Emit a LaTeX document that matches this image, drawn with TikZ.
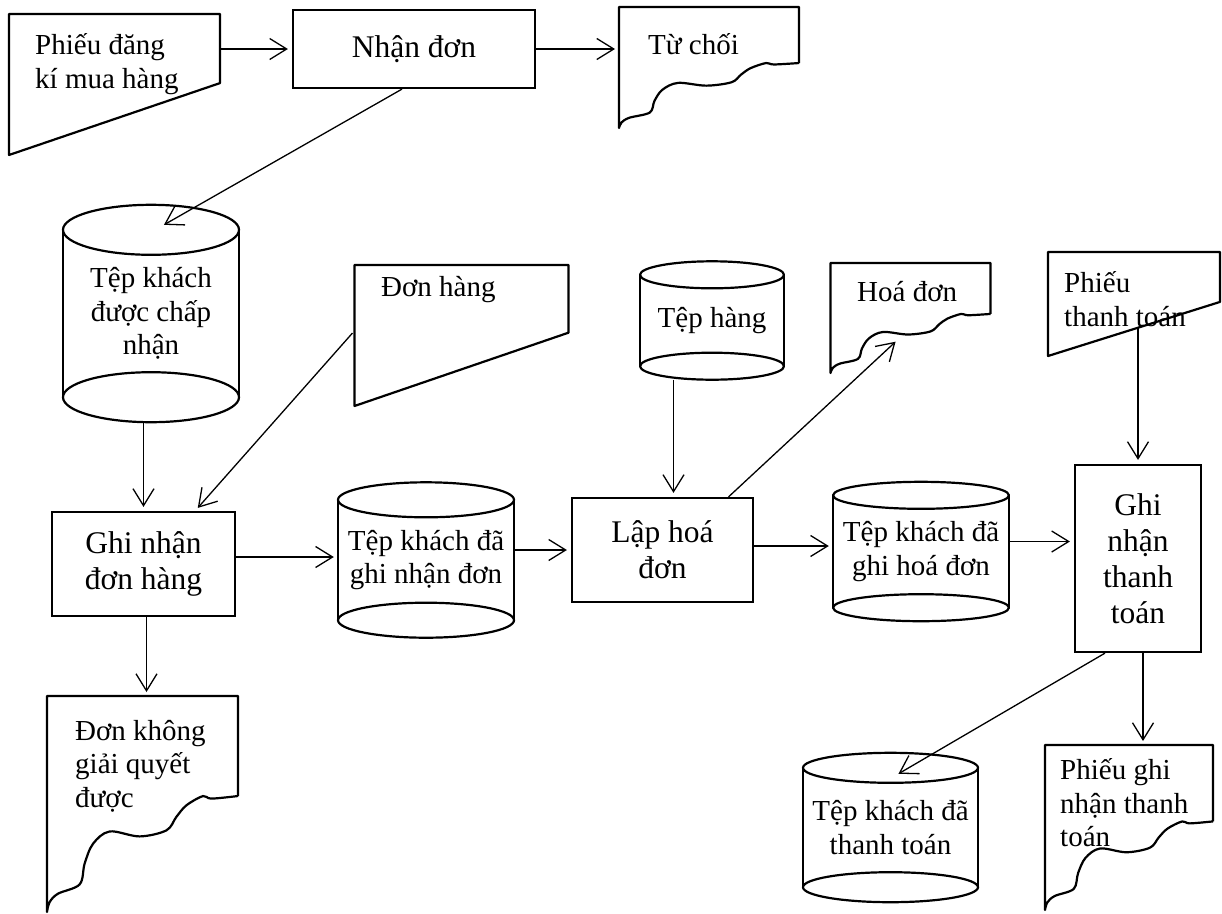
\documentclass[tikz,border=0pt]{standalone}
\usepackage{fontspec}
\setmainfont{Liberation Serif}
\usetikzlibrary{arrows.meta}

\tikzset{
  docframe/.style={rectangle, inner sep=0pt, anchor=north west},
  proc/.style={draw, line width=2.2pt, rectangle, inner sep=0pt, align=center,
    font=\fontsize{31.5}{36}\selectfont},
  store/.style={rectangle, inner sep=0pt, align=center, font=\fontsize{29}{33.5}\selectfont},
  doctext/.style={inner sep=0pt, anchor=west, align=left, font=\fontsize{29}{33.5}\selectfont},
  shapeline/.style={line width=2.2pt, line join=round},
  flow/.style={line width=1.3pt, shorten >=4pt, -{Straight Barb[length=17pt, width=21pt]}}
}

% manual input: name, width, height, right side ratio
\newcommand{\inshape}[4]{%
  \draw[shapeline, shift={(#1.north west)}, x=#2pt, y=-#3pt]
    (0,0) -- (1,0) -- (1,#4) -- (0,1) -- cycle;}
% document with torn bottom: name, width, height
\newcommand{\docshape}[3]{%
  \draw[shapeline, shift={(#1.north west)}, x=#2pt, y=-#3pt]
    (1,.463) -- (1,0) -- (0,0) -- (0,1)
    -- plot[smooth, tension=.55] coordinates {(0,1) (.014,.954) (.058,.915) (.171,.872)
      (.197,.776) (.241,.684) (.328,.627) (.485,.65) (.625,.622) (.677,.56)
      (.73,.506) (.817,.463) (.86,.475) (1,.463)};}
% file drum: name, x radius, y radius
\newcommand{\cylshape}[3]{%
  \draw[shapeline] (#1.north west) -- (#1.south west) (#1.north east) -- (#1.south east);
  \draw[shapeline] (#1.north) ellipse [x radius=#2pt, y radius=#3pt];
  \draw[shapeline] (#1.south) ellipse [x radius=#2pt, y radius=#3pt];}

\begin{document}
\begin{tikzpicture}[x=1pt, y=-1pt]
\useasboundingbox (0,0) rectangle (1222,913);

% input forms
\node[docframe, minimum width=211pt, minimum height=141pt] (phieudk) at (9,14) {};
\node[docframe, minimum width=214pt, minimum height=141pt] (donhang) at (354.5,265) {};
\node[docframe, minimum width=172pt, minimum height=104pt] (phieutt) at (1048,252) {};
\inshape{phieudk}{211}{141}{.49}
\inshape{donhang}{214}{141}{.48}
\inshape{phieutt}{172}{104}{.48}

% output documents
\node[docframe, minimum width=180pt, minimum height=121pt] (tuchoi) at (619,7) {};
\node[docframe, minimum width=160pt, minimum height=110pt] (hoadon) at (830.5,263) {};
\node[docframe, minimum width=191pt, minimum height=216pt] (donkhong) at (47,696) {};
\node[docframe, minimum width=168pt, minimum height=165pt] (phieughi) at (1045,745) {};
\docshape{tuchoi}{180}{121}
\docshape{hoadon}{160}{110}
\docshape{donkhong}{191}{216}
\docshape{phieughi}{168}{165}

\node[doctext] (phieudk-txt) at (35,64) {Phiếu đăng\\kí mua hàng};
\node[doctext] (donhang-txt) at (381,290) {Đơn hàng};
\node[doctext] (phieutt-txt) at (1064,299) {Phiếu\\thanh toán};
\node[doctext] (tuchoi-txt) at (648,44) {Từ chối};
\node[doctext] (hoadon-txt) at (857,292) {Hoá đơn};
\node[doctext] (donkhong-txt) at (75,766) {Đơn không\\giải quyết\\được};
\node[doctext] (phieughi-txt) at (1060,803) {Phiếu ghi\\nhận thanh\\toán};

% processes
\node[proc, minimum width=242pt, minimum height=78pt] (nhandon) at (414,49) {Nhận đơn};
\node[proc, minimum width=183pt, minimum height=104pt] (ghinhan) at (143.5,564) {Ghi nhận\\đơn hàng};
\node[proc, minimum width=181pt, minimum height=104pt] (lapdon) at (662.5,550) {Lập hoá\\đơn};
\node[proc, minimum width=126pt, minimum height=187pt] (ghitt) at (1138,558.5) {Ghi\\nhận\\thanh\\toán};

% files
\node[store, minimum width=176pt, minimum height=167pt] (tepduyet) at (151,313.5) {Tệp khách\\được chấp\\nhận};
\node[store, minimum width=176pt, minimum height=120pt] (tepghidon) at (426,560) {Tệp khách đã\\ghi nhận đơn};
\node[store, minimum width=144pt, minimum height=91pt] (tephang) at (712,320.5) {Tệp hàng};
\node[store, minimum width=176pt, minimum height=112pt] (tepghihd) at (921,551.5) {Tệp khách đã\\ghi hoá đơn};
\node[store, minimum width=175pt, minimum height=119pt] (teptt) at (890.5,827.5) {Tệp khách đã\\thanh toán};
\cylshape{tepduyet}{88}{25}
\cylshape{tepghidon}{88}{17.5}
\cylshape{tephang}{72}{13.5}
\cylshape{tepghihd}{88}{13.5}
\cylshape{teptt}{87.5}{15}

% flows
\draw[flow] (nhandon.west -| phieudk.east) -- (nhandon.west);
\draw[flow] (nhandon.east) -- (nhandon.east -| tuchoi.west);
\draw[flow] ([xshift=-12pt]nhandon.south) -- ([xshift=9.5pt,yshift=3pt]tepduyet.north);
\draw[flow] ([yshift=-25pt]tepduyet.south -| ghinhan.north) -- (ghinhan.north);
\draw[flow] ([xshift=-2pt,yshift=-68pt]donhang.north west) -- ([xshift=-41pt]ghinhan.north east);
\draw[flow] ([yshift=7pt]ghinhan.east) -- ([yshift=7pt]ghinhan.east -| tepghidon.west);
\draw[flow] (lapdon.west -| tepghidon.east) -- (lapdon.west);
\draw[flow] ([xshift=-38.5pt,yshift=-13.5pt]tephang.south) -- ([xshift=11pt]lapdon.north);
\draw[flow] ([xshift=66pt]lapdon.north) -- ([xshift=68pt,yshift=-76pt]hoadon.north west);
\draw[flow] ([yshift=4pt]lapdon.east) -- ([yshift=4pt]lapdon.east -| tepghihd.west);
\draw[flow] ([yshift=10pt]tepghihd.east) -- ([yshift=10pt]tepghihd.east -| ghitt.west);
\draw[flow] ([xshift=90pt,yshift=-76pt]phieutt.north west) -- (ghitt.north);
\draw[flow] ([xshift=-33pt]ghitt.south) -- ([xshift=4.5pt,yshift=-8pt]teptt.north);
\draw[flow] ([xshift=5pt]ghitt.south) -- ([xshift=5pt]ghitt.south |- phieughi.north);
\draw[flow] ([xshift=3pt]ghinhan.south) -- ([xshift=3pt]ghinhan.south |- donkhong.north);

\end{tikzpicture}
\end{document}
